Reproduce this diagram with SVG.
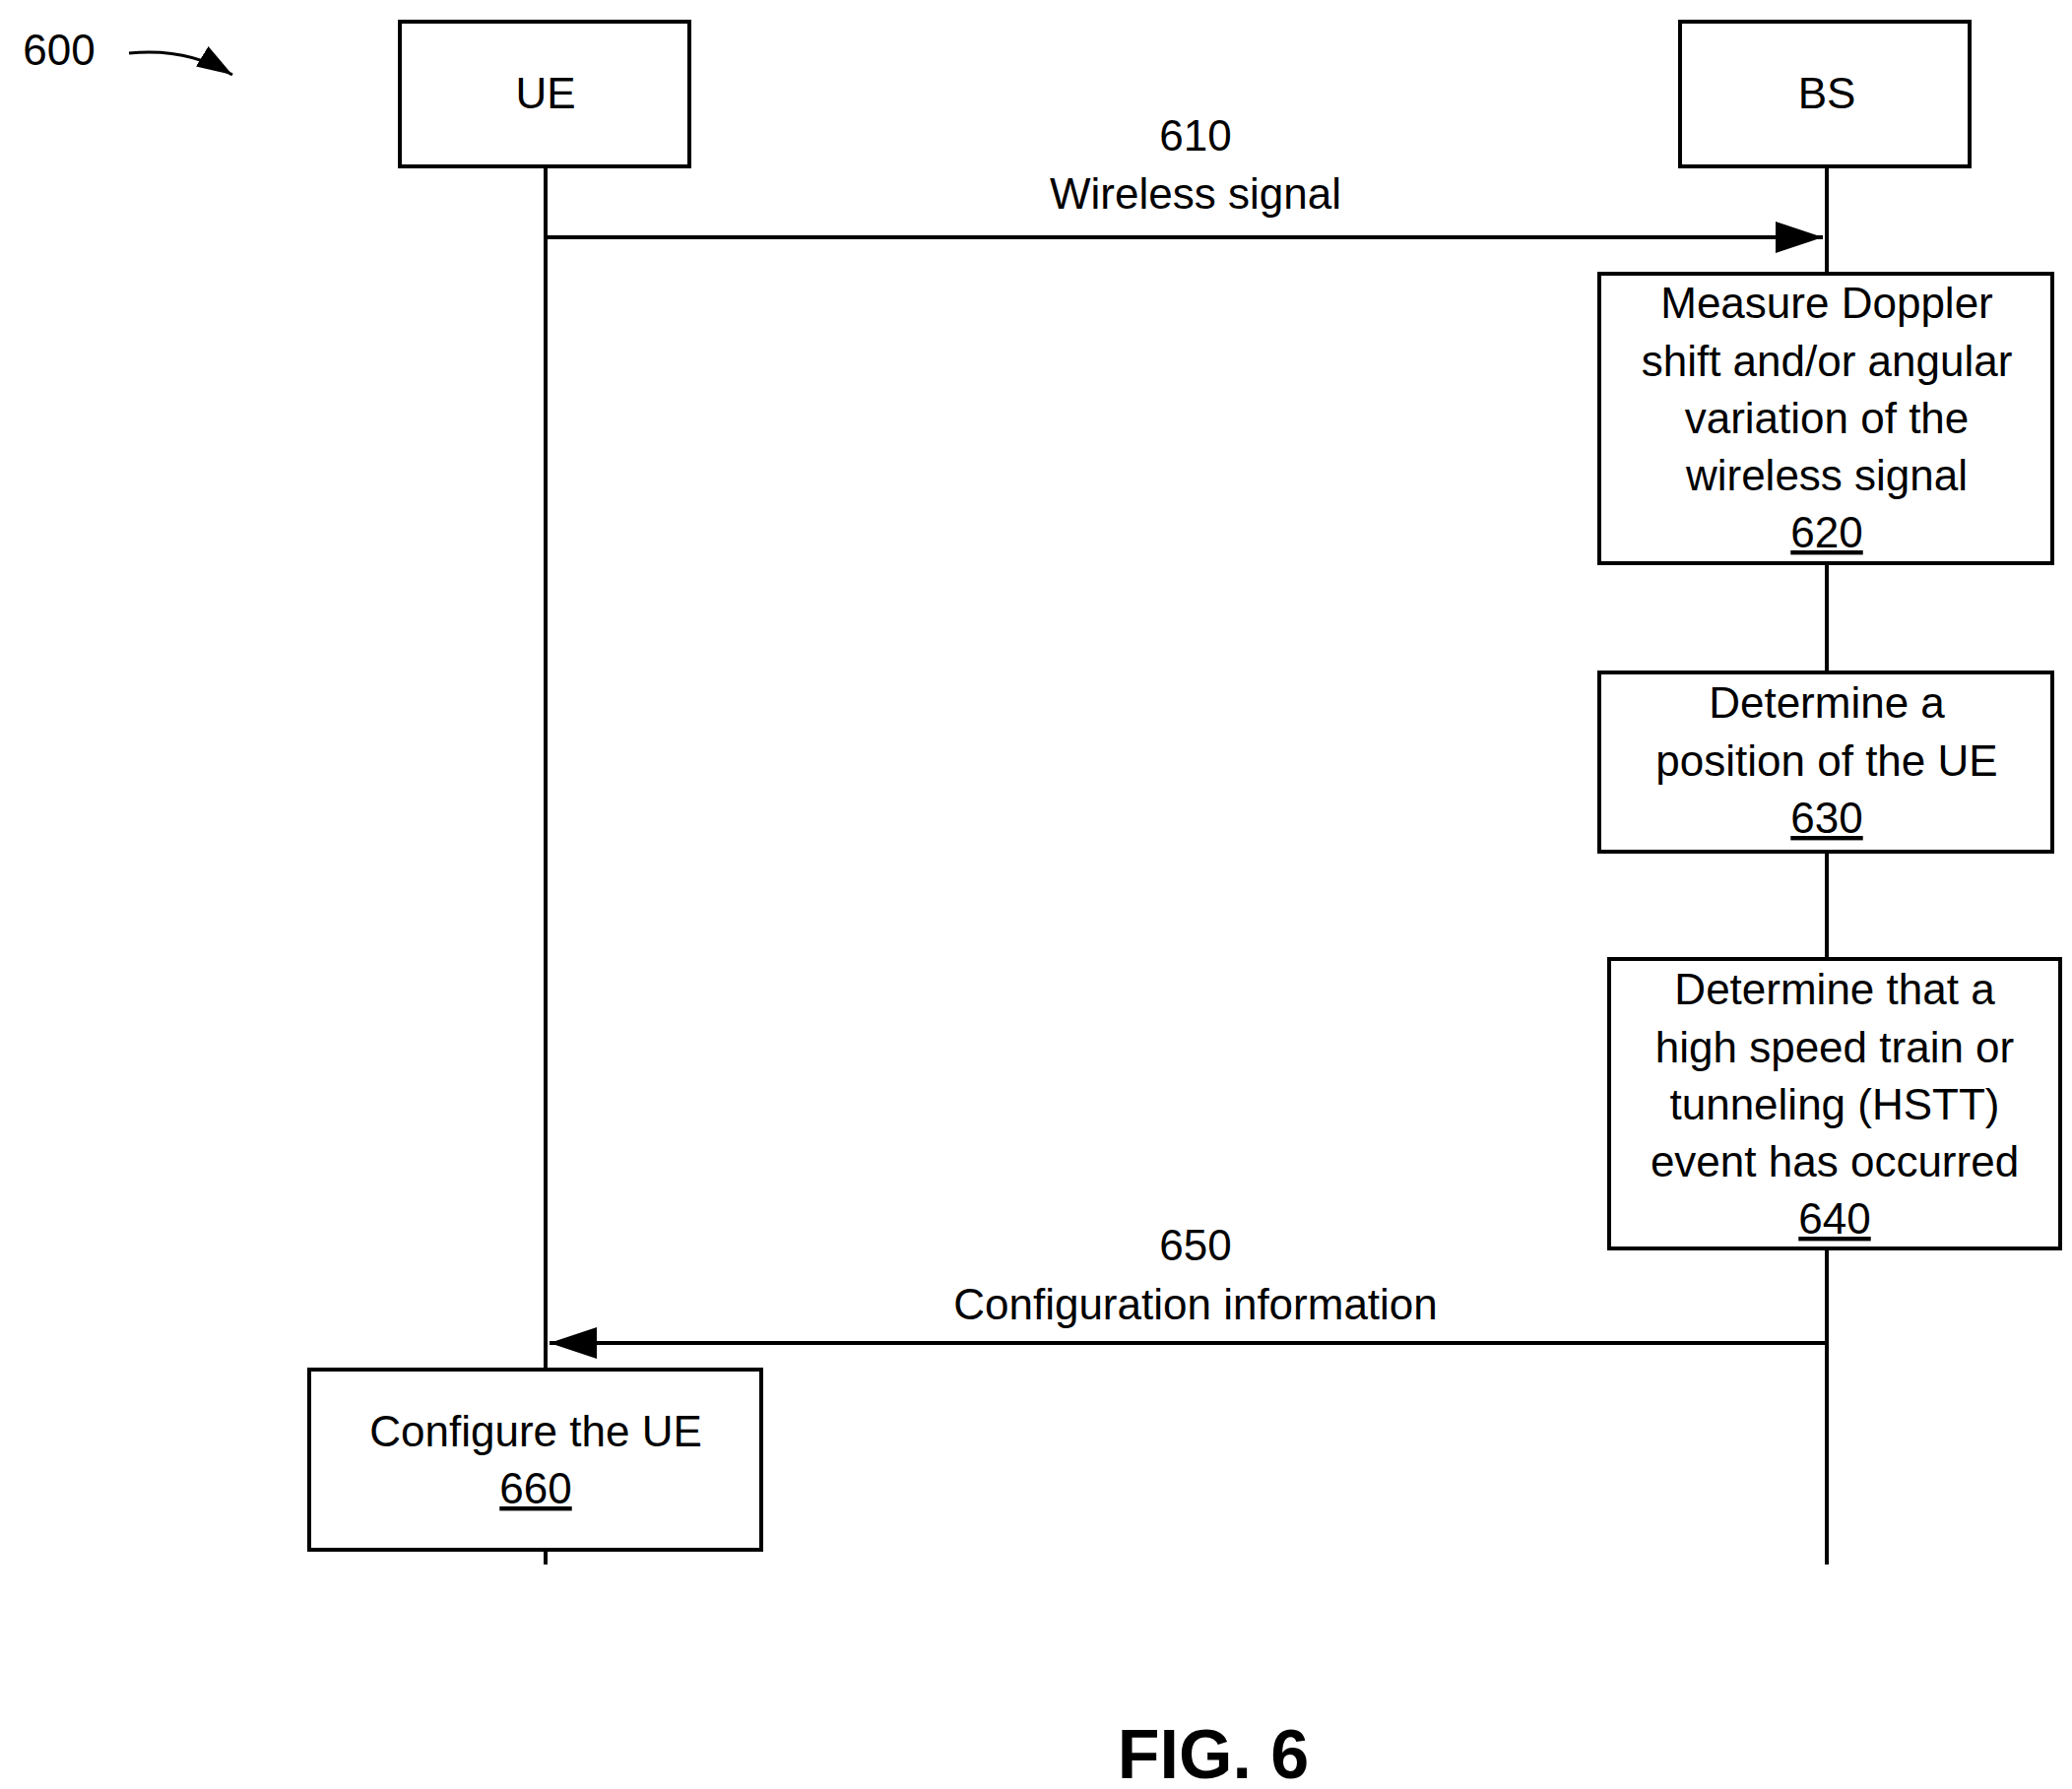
<svg xmlns="http://www.w3.org/2000/svg" width="2104" height="1817" viewBox="0 0 2104 1817">
<style>
text{font-family:"Liberation Sans",Arial,sans-serif;font-size:44px;fill:#000;text-anchor:middle}
.b{fill:#fff;stroke:#000;stroke-width:4}
.l{stroke:#000;stroke-width:4;fill:none}
</style>
<defs><marker id="a" markerWidth="12" markerHeight="8" refX="12" refY="4" orient="auto" markerUnits="strokeWidth"><path d="M0,0L12,4L0,8z"/></marker></defs>
<rect width="2104" height="1817" fill="#fff"/>
<g id="connectors">
<line class="l" x1="554" y1="169" x2="554" y2="1589"/>
<line class="l" x1="1855" y1="169" x2="1855" y2="1589"/>
<line class="l" x1="554" y1="241" x2="1851" y2="241" marker-end="url(#a)"/>
<line class="l" x1="1855" y1="1364" x2="558" y2="1364" marker-end="url(#a)"/>
<path class="l" d="M131,54 Q190,48 236,76" marker-end="url(#a)" style="stroke-width:3"/>
</g>
<text x="60" y="66" style="text-anchor:middle">600</text>
<g id="ue"><rect class="b" x="406" y="22" width="294" height="147"/><text x="554" y="110">UE</text></g>
<g id="bs"><rect class="b" x="1706" y="22" width="294" height="147"/><text x="1855" y="110">BS</text></g>
<g id="m610"><text x="1214" y="153">610</text><text x="1214" y="212">Wireless signal</text></g>
<g id="n620"><rect class="b" x="1624" y="278" width="460" height="294"/>
<text x="1855" y="323">Measure Doppler</text><text x="1855" y="382">shift and/or angular</text><text x="1855" y="440">variation of the</text><text x="1855" y="498">wireless signal</text><text x="1855" y="556" text-decoration="underline">620</text></g>
<g id="n630"><rect class="b" x="1624" y="683" width="460" height="182"/>
<text x="1855" y="729">Determine a</text><text x="1855" y="788">position of the UE</text><text x="1855" y="846" text-decoration="underline">630</text></g>
<g id="n640"><rect class="b" x="1634" y="974" width="458" height="294"/>
<text x="1863" y="1020">Determine that a</text><text x="1863" y="1079">high speed train or</text><text x="1863" y="1137">tunneling (HSTT)</text><text x="1863" y="1195">event has occurred</text><text x="1863" y="1253" text-decoration="underline">640</text></g>
<g id="m650"><text x="1214" y="1280">650</text><text x="1214" y="1340">Configuration information</text></g>
<g id="n660"><rect class="b" x="314" y="1391" width="459" height="183"/>
<text x="544" y="1469">Configure the UE</text><text x="544" y="1527" text-decoration="underline">660</text></g>
<text x="1232" y="1806" style="font-size:70px;font-weight:bold">FIG. 6</text>
</svg>
